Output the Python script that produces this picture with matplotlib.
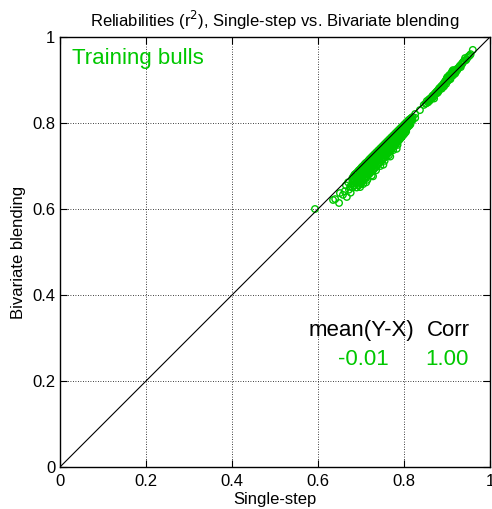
# Reliabilities (r2) of training bulls: single-step vs bivariate blending
import matplotlib
matplotlib.use('Agg')
import matplotlib.pyplot as plt

plt.rcParams['font.family'] = ['Liberation Sans', 'DejaVu Sans']

green = '#00c800'

# lower cluster (young/medium reliability bulls)
ss_low = [0.593, 0.635, 0.640, 0.649, 0.651, 0.658, 0.667, 0.662, 0.672, 0.676,
          0.665, 0.670, 0.675,
          0.680, 0.680, 0.680, 0.680, 0.685, 0.685, 0.685,
          0.690, 0.690, 0.690, 0.690, 0.695, 0.695, 0.695, 0.695,
          0.700, 0.700, 0.700, 0.700, 0.705, 0.705, 0.705, 0.705, 0.705,
          0.710, 0.710, 0.710, 0.710, 0.715, 0.715, 0.715, 0.715, 0.715,
          0.720, 0.720, 0.720, 0.720, 0.725, 0.725, 0.725, 0.725, 0.725,
          0.730, 0.730, 0.730, 0.730, 0.735, 0.735, 0.735, 0.735, 0.735,
          0.740, 0.740, 0.740, 0.740, 0.745, 0.745, 0.745, 0.745, 0.745,
          0.750, 0.750, 0.750, 0.750, 0.755, 0.755, 0.755, 0.755, 0.755,
          0.760, 0.760, 0.760, 0.760, 0.765, 0.765, 0.765, 0.765, 0.765,
          0.770, 0.770, 0.770, 0.770, 0.775, 0.775, 0.775, 0.775, 0.775,
          0.780, 0.780, 0.780, 0.780, 0.785, 0.785, 0.785, 0.785, 0.785,
          0.790, 0.790, 0.790, 0.790, 0.795, 0.795, 0.795, 0.795,
          0.800, 0.800, 0.800, 0.800, 0.805, 0.805, 0.805, 0.805,
          0.810, 0.810, 0.810, 0.815, 0.815, 0.815, 0.820, 0.820, 0.826, 0.826,
          0.698, 0.712, 0.728, 0.752, 0.768, 0.783,
          0.6825, 0.6825, 0.6825, 0.6875, 0.6875, 0.6875,
          0.6925, 0.6925, 0.6925, 0.6925, 0.6975, 0.6975, 0.6975, 0.6975,
          0.7025, 0.7025, 0.7025, 0.7025, 0.7075, 0.7075, 0.7075, 0.7075,
          0.7125, 0.7125, 0.7125, 0.7125, 0.7175, 0.7175, 0.7175, 0.7175,
          0.7225, 0.7225, 0.7225, 0.7225, 0.7275, 0.7275, 0.7275, 0.7275,
          0.7325, 0.7325, 0.7325, 0.7325, 0.7375, 0.7375, 0.7375, 0.7375,
          0.7425, 0.7425, 0.7425, 0.7425, 0.7475, 0.7475, 0.7475, 0.7475,
          0.7525, 0.7525, 0.7525, 0.7525, 0.7575, 0.7575, 0.7575, 0.7575,
          0.7625, 0.7625, 0.7625, 0.7625, 0.7675, 0.7675, 0.7675, 0.7675,
          0.7725, 0.7725, 0.7725, 0.7725, 0.7775, 0.7775, 0.7775, 0.7775,
          0.7825, 0.7825, 0.7825, 0.7825, 0.7875, 0.7875, 0.7875, 0.7875,
          0.7925, 0.7925, 0.7925, 0.7925, 0.7975, 0.7975, 0.7975, 0.7975,
          0.8025, 0.8025, 0.8025, 0.8025, 0.8075, 0.8075, 0.8075,
          0.8125, 0.8125, 0.8125, 0.8175, 0.8175]
bb_low = [0.600, 0.621, 0.623, 0.614, 0.637, 0.633, 0.628, 0.641, 0.645, 0.638,
          0.655, 0.662, 0.652,
          0.672, 0.660, 0.650, 0.665, 0.680, 0.668, 0.655,
          0.684, 0.673, 0.662, 0.650, 0.690, 0.678, 0.667, 0.655,
          0.695, 0.684, 0.672, 0.660, 0.700, 0.690, 0.678, 0.666, 0.658,
          0.706, 0.694, 0.683, 0.671, 0.710, 0.700, 0.688, 0.676, 0.668,
          0.716, 0.705, 0.693, 0.682, 0.721, 0.710, 0.699, 0.688, 0.678,
          0.726, 0.716, 0.704, 0.693, 0.731, 0.720, 0.709, 0.698, 0.690,
          0.736, 0.726, 0.715, 0.704, 0.741, 0.731, 0.720, 0.709, 0.700,
          0.746, 0.736, 0.726, 0.715, 0.751, 0.741, 0.731, 0.720, 0.712,
          0.756, 0.747, 0.737, 0.726, 0.761, 0.752, 0.742, 0.732, 0.725,
          0.766, 0.757, 0.748, 0.738, 0.771, 0.762, 0.753, 0.744, 0.737,
          0.776, 0.768, 0.759, 0.750, 0.781, 0.773, 0.764, 0.756, 0.749,
          0.786, 0.778, 0.770, 0.762, 0.791, 0.783, 0.775, 0.768,
          0.796, 0.789, 0.781, 0.774, 0.801, 0.794, 0.787, 0.780,
          0.806, 0.799, 0.792, 0.810, 0.803, 0.797, 0.814, 0.807, 0.812, 0.821,
          0.651, 0.662, 0.676, 0.703, 0.722, 0.740,
          0.676, 0.664, 0.654, 0.682, 0.671, 0.659,
          0.687, 0.676, 0.665, 0.656, 0.692, 0.681, 0.670, 0.660,
          0.698, 0.687, 0.675, 0.664, 0.703, 0.692, 0.681, 0.669,
          0.708, 0.697, 0.686, 0.674, 0.713, 0.702, 0.691, 0.680,
          0.718, 0.707, 0.696, 0.685, 0.723, 0.713, 0.702, 0.690,
          0.728, 0.718, 0.707, 0.696, 0.733, 0.723, 0.712, 0.701,
          0.738, 0.728, 0.718, 0.707, 0.743, 0.733, 0.723, 0.712,
          0.748, 0.738, 0.728, 0.718, 0.753, 0.744, 0.734, 0.724,
          0.758, 0.749, 0.739, 0.729, 0.763, 0.754, 0.745, 0.735,
          0.768, 0.759, 0.750, 0.741, 0.773, 0.765, 0.756, 0.747,
          0.778, 0.770, 0.761, 0.753, 0.783, 0.775, 0.767, 0.759,
          0.788, 0.780, 0.772, 0.765, 0.793, 0.786, 0.778, 0.771,
          0.798, 0.791, 0.784, 0.777, 0.803, 0.796, 0.789,
          0.808, 0.801, 0.794, 0.812, 0.805]

# upper cluster (proven bulls)
ss_high = [0.837, 0.850, 0.853, 0.856, 0.858, 0.860, 0.862, 0.865, 0.867, 0.870,
           0.872, 0.875, 0.877, 0.880, 0.882, 0.885, 0.887, 0.890, 0.892, 0.895,
           0.897, 0.900, 0.902, 0.905, 0.907, 0.910, 0.912, 0.914, 0.915, 0.918,
           0.920, 0.922, 0.925, 0.928, 0.930, 0.933, 0.936, 0.940, 0.942, 0.945,
           0.950, 0.955, 0.960,
           0.868, 0.878, 0.888, 0.898, 0.908, 0.870, 0.880, 0.893,
           0.846, 0.852, 0.857, 0.863, 0.866, 0.871, 0.874, 0.876, 0.879, 0.883,
           0.886, 0.889, 0.891, 0.894, 0.896, 0.899, 0.901, 0.904, 0.906, 0.909,
           0.911, 0.913, 0.916, 0.919, 0.921, 0.924, 0.927, 0.932, 0.935, 0.938,
           0.944, 0.948, 0.953]
bb_high = [0.830, 0.845, 0.851, 0.848, 0.855, 0.852, 0.858, 0.860, 0.864, 0.865,
           0.869, 0.872, 0.874, 0.877, 0.881, 0.882, 0.886, 0.888, 0.892, 0.896,
           0.899, 0.905, 0.898, 0.910, 0.904, 0.915, 0.920, 0.923, 0.912, 0.918,
           0.922, 0.925, 0.926, 0.930, 0.933, 0.936, 0.940, 0.945, 0.951, 0.948,
           0.955, 0.960, 0.970,
           0.860, 0.870, 0.880, 0.891, 0.902, 0.857, 0.873, 0.885,
           0.842, 0.846, 0.852, 0.856, 0.862, 0.866, 0.868, 0.871, 0.876, 0.878,
           0.884, 0.884, 0.889, 0.890, 0.894, 0.902, 0.907, 0.900, 0.912, 0.908,
           0.917, 0.910, 0.921, 0.915, 0.919, 0.923, 0.928, 0.930, 0.937, 0.942,
           0.946, 0.952, 0.957]

single_step = ss_low + ss_high
bivariate = bb_low + bb_high

ticks = [0, 0.2, 0.4, 0.6, 0.8, 1]
tick_labels = ['0', '0.2', '0.4', '0.6', '0.8', '1']
mean_diff = '-0.01'
corr = '1.00'

fig = plt.figure(figsize=(4.92, 5.09), dpi=100)
ax = fig.add_axes([60/492, 42/509, 430/492, 430/509])

ax.scatter(single_step, bivariate, s=22, facecolors='none', edgecolors=green,
           linewidths=1.0, zorder=2)
ax.plot([0, 1], [0, 1], color='black', lw=0.8, zorder=3)

ax.set_xlim(0, 1)
ax.set_ylim(0, 1)
ax.set_xticks(ticks)
ax.set_xticklabels(tick_labels)
ax.set_yticks(ticks)
ax.set_yticklabels(tick_labels)
ax.tick_params(direction='in', top=True, right=True, labelsize=12, length=5, width=0.8)
ax.tick_params(axis='x', pad=5)
ax.grid(True, linestyle=(0, (1, 2)), color='black', lw=0.6)
for sp in ax.spines.values():
    sp.set_linewidth(1.0)

ax.set_title('Reliabilities (r$^2$), Single-step vs. Bivariate blending', fontsize=12, pad=7)
ax.set_xlabel('Single-step', fontsize=12, labelpad=2)
ax.set_ylabel('Bivariate blending', fontsize=12, labelpad=4)

ax.text(0.028, 0.951, 'Training bulls', color=green, fontsize=16, va='center', ha='left')
ax.text(0.577, 0.318, 'mean(Y-X)', color='black', fontsize=16, va='center', ha='left')
ax.text(0.953, 0.318, 'Corr', color='black', fontsize=16, va='center', ha='right')
ax.text(0.764, 0.250, mean_diff, color=green, fontsize=16, va='center', ha='right')
ax.text(0.951, 0.250, corr, color=green, fontsize=16, va='center', ha='right')

fig.savefig('out.png', dpi=100)
